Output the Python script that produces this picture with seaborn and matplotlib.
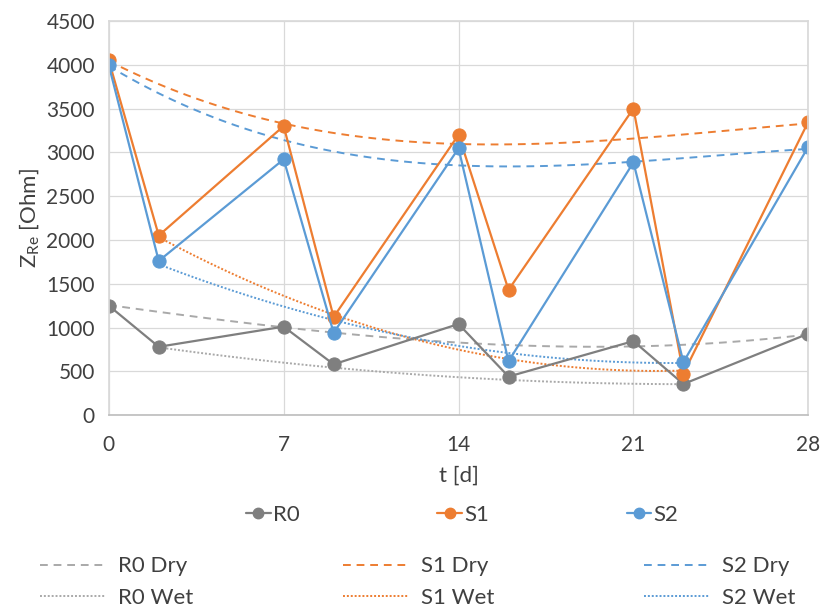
"""
Impedance (real part) of R0 / S1 / S2 over 28 days of dry / wet cycles,
with dry and wet trend lines. Saves out.png.
"""

import matplotlib
matplotlib.use("Agg")
import matplotlib.pyplot as plt
import seaborn as sns
from matplotlib.lines import Line2D

# measured values
days = [0, 2, 7, 9, 14, 16, 21, 23, 28]
r0 = [1250, 780, 1010, 580, 1040, 440, 845, 355, 930]
s1 = [4050, 2050, 3300, 1120, 3200, 1430, 3500, 475, 3350]
s2 = [3995, 1760, 2920, 940, 3045, 615, 2885, 605, 3065]

# trend curves at the dry / wet days
dry_days = [0, 7, 14, 21, 28]
wet_days = [2, 9, 16, 23]
r0_dry = [1255, 1008, 820, 790, 920]
s1_dry = [4050, 3299, 3139, 3128, 3337]
s2_dry = [3990, 3120, 2880, 2873, 3044]
r0_wet = [773, 544, 400, 354]
s1_wet = [2040, 1122, 666, 500]
s2_wet = [1720, 1090, 704, 597]

names = ["R0", "S1", "S2"]
colors = ["#7f7f7f", "#ed7d31", "#5b9bd5"]
trend_colors = ["#a9a9a9", "#ed7d31", "#5b9bd5"]
x_ticks = [0, 7, 14, 21, 28]
y_ticks = list(range(0, 4501, 500))

sns.set_theme(style="whitegrid")
plt.rcParams["font.family"] = ["Lato", "DejaVu Sans"]
plt.rcParams["font.size"] = 15
plt.rcParams["mathtext.fontset"] = "custom"
plt.rcParams["mathtext.rm"] = "Lato"
plt.rcParams["mathtext.it"] = "Lato"

fig = plt.figure(figsize=(8.24, 6.15), dpi=100)
ax = fig.add_axes([0.132, 0.325, 0.849, 0.641])

# trend lines
for name, col, yd, yw in zip(names, trend_colors,
                             [r0_dry, s1_dry, s2_dry], [r0_wet, s1_wet, s2_wet]):
    sns.regplot(x=dry_days, y=yd, order=3, ci=None, scatter=False, ax=ax,
                line_kws=dict(color=col, lw=1.4, ls=(0, (4, 3))))
    sns.regplot(x=wet_days, y=yw, order=2, ci=None, scatter=False, ax=ax,
                line_kws=dict(color=col, lw=1.4, ls=(0, (1, 1))))

# measured series
for name, col, vals in zip(names, colors, [r0, s1, s2]):
    sns.lineplot(x=days, y=vals, color=col, marker="o", markersize=9.5,
                 markeredgecolor=col, lw=1.6, sort=False, ax=ax, legend=False)

ax.set_xlim(0, 28)
ax.set_ylim(0, 4500)
ax.set_xticks(x_ticks)
ax.set_yticks(y_ticks)
ax.grid(color="#d9d9d9", lw=0.9)
for sp in ax.spines.values():
    sp.set_color("#d9d9d9")
ax.spines["bottom"].set_color("#bfbfbf")
ax.tick_params(colors="#404040", labelsize=15, length=0)
ax.tick_params(axis="x", pad=14)
ax.tick_params(axis="y", pad=10)
ax.set_xlabel("t [d]", fontsize=16, color="#404040", labelpad=8)
ax.set_ylabel(r"Z$_{\mathrm{Re}}$ [Ohm]", fontsize=16, color="#404040", labelpad=4)

# legends
h1 = [Line2D([], [], color=c, marker="o", ms=7.5, lw=1.6) for c in colors]
fig.legend(h1, names, loc="center", bbox_to_anchor=(0.561, 1 - 515 / 615),
           ncol=3, frameon=False, handlelength=1.1, handletextpad=0.1,
           columnspacing=6.2, fontsize=16, labelcolor="#404040")

h2, l2 = [], []
for name, col in zip(names, trend_colors):
    h2 += [Line2D([], [], color=col, lw=1.4, ls=(0, (4, 3))),
           Line2D([], [], color=col, lw=1.4, ls=(0, (1, 1)))]
    l2 += [f"{name} Dry", f"{name} Wet"]
fig.legend(h2, l2, loc="center", bbox_to_anchor=(0.507, 1 - 582 / 615),
           ncol=3, frameon=False, handlelength=2.9, handletextpad=0.6,
           columnspacing=6.75, labelspacing=0.5, fontsize=16, labelcolor="#404040")

fig.savefig("out.png", dpi=100)
